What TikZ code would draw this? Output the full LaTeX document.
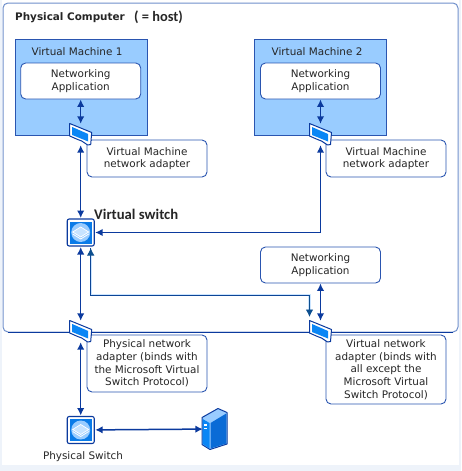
\documentclass[tikz,border=0pt]{standalone}
\usepackage{fontspec}
\setmainfont{DejaVu Sans}
\newfontfamily\titlefont{Carlito}
\usetikzlibrary{arrows.meta, positioning}
\definecolor{linkblue}{HTML}{0B3A9E}
\definecolor{boxblue}{HTML}{2A55B0}
\definecolor{vmblue}{HTML}{99CCFF}
\definecolor{chipblue}{HTML}{0A86F5}
\definecolor{tealblue}{HTML}{0D4F8F}
\definecolor{pageblue}{HTML}{EEF3FA}
\definecolor{hostblue}{HTML}{6F8FCB}
\tikzset{
    label text/.style = {font=\fontsize{10.4}{12.7}\selectfont, text=black!85, align=center, inner sep=0pt},
    whitebox/.style = {label text, draw=boxblue, line width=0.9pt, fill=white, rounded corners=5pt},
    link/.style = {{Latex[length=7.5pt,width=7.5pt]}-{Latex[length=7.5pt,width=7.5pt]}, draw=linkblue, line width=1.5pt},
    icon slot/.style = {inner sep=0pt, minimum width=#1, minimum height=#1},
    pics/netcard/.style = {code = {
        \draw[fill=white, draw=linkblue, line width=1pt, line join=round]
            (-11,-11) -- (11,-2) -- (10,10) -- (7,10.5) -- (1,6.5) -- (-3,5) -- (-11,1.5) -- cycle;
        \fill[chipblue] (-8.5,-7.5) -- (7.5,-0.5) -- (7.5,7) -- (-8.5,0.5) -- cycle;
    }},
    pics/hubtop/.style = {code = {
        \fill[linkblue!15!chipblue] (-11,-11) rectangle (11,11);
        \fill[vmblue] (0,0) circle (9.5);
        \draw[fill=white!45!vmblue, draw=white, line width=0.7pt] (-8,-0.5) -- (0,-5.5) -- (8,-0.5) -- (0,4.5) -- cycle;
        \draw[white, line width=0.8pt] (-8,1.5) -- (0,6.5) -- (8,1.5);
    }},
    pics/tower/.style = {code = {
        \draw[fill=vmblue, draw=linkblue, line width=1pt, line join=round]
            (-13,-11.5) -- (3,-20.5) -- (12,-16.5) -- (12,15) -- (-5,20.5) -- (-13,15.5) -- cycle;
        \fill[chipblue] (-12.3,-10) -- (-5.5,-6) -- (-5.5,19.5) -- (-12.3,15) -- cycle;
        \fill[linkblue!35!chipblue] (-4.5,-6) -- (11.3,-15.5) -- (11.3,14.5) -- (-4.5,19.5) -- cycle;
        \fill[white] (-11,-5) rectangle (-8,-3.5);
        \fill[white] (-11,-1) rectangle (-8,0.3);
    }},
}

\begin{document}
\begin{tikzpicture}[x=1pt, y=-1pt]
    \useasboundingbox (0,0) rectangle (461,471);
    % Parameters
    \pgfmathsetmacro{\colA}{80.7}
    \pgfmathsetmacro{\colB}{320.5}
    \pgfmathsetmacro{\noteA}{147}
    \pgfmathsetmacro{\noteB}{386}
    % Page and host
    \fill[pageblue] (0,0) rectangle (461,471);
    \fill[white] (2,0) rectangle (458.5,465);
    \draw[hostblue, line width=1pt, rounded corners=5pt] (3,3) rectangle (458,332);
    \draw[linkblue, line width=0.9pt] (8,332) -- (453,332);
    \node[anchor=west, inner sep=0pt, font=\fontsize{10.4}{12}\selectfont\bfseries, text=black!85] (hosttitle) at (15,17.5) {Physical Computer};
    \node[anchor=west, inner sep=0pt, font=\titlefont\fontsize{14.4}{15}\selectfont\bfseries, text=black!85] (hostnote) at (134,17.5) {( = host)};

    % Virtual machines
    \node[draw=boxblue, line width=1pt, fill=vmblue, inner sep=0pt, minimum width=132pt, minimum height=96pt] (vmone) at (81,87) {};
    \node[draw=boxblue, line width=1pt, fill=vmblue, inner sep=0pt, minimum width=132pt, minimum height=96pt] (vmtwo) at (320.5,87) {};
    \node[label text] (vmonetitle) at (77,51.5) {Virtual Machine 1};
    \node[label text] (vmtwotitle) at (317,51.5) {Virtual Machine 2};

    % Boxes with text
    \node[whitebox, minimum width=120pt, minimum height=36pt] (appone) at (\colA,81) {Networking\\Application};
    \node[whitebox, minimum width=120pt, minimum height=36pt] (apptwo) at (\colB,81) {Networking\\Application};
    \node[whitebox, minimum width=120pt, minimum height=36pt] (appthree) at (\colB,265) {Networking\\Application};
    \node[whitebox, minimum width=120pt, minimum height=37pt] (noteone) at (\noteA,158.5) {Virtual Machine\\network adapter};
    \node[whitebox, minimum width=120pt, minimum height=37pt] (notetwo) at (\noteB,158.5) {Virtual Machine\\network adapter};
    \node[whitebox, minimum width=120pt, minimum height=57pt] (notephys) at (\noteA,363.5) {Physical network\\adapter (binds with\\the Microsoft Virtual\\Switch Protocol)};
    \node[whitebox, minimum width=120pt, minimum height=69pt] (notevirt) at (\noteB,369.5) {Virtual network\\adapter (binds with\\all except the\\Microsoft Virtual\\Switch Protocol)};

    % Slots for the icons
    \node[icon slot=21pt] (nicone) at (\colA,134.5) {};
    \node[icon slot=21pt] (nictwo) at (\colB,134.5) {};
    \node[icon slot=21pt] (nicphys) at (\colA,331.5) {};
    \node[icon slot=21pt] (nicvirt) at (\colB,331.5) {};
    \node[draw=linkblue, fill=white, line width=1.1pt, rounded corners=2pt, inner sep=0pt, minimum width=27pt, minimum height=27pt, outer sep=1pt] (vswitch) at (\colA,232.5) {};
    \node[draw=linkblue, fill=white, line width=1.1pt, rounded corners=2pt, inner sep=0pt, minimum width=27pt, minimum height=27pt, outer sep=1pt] (pswitch) at (\colA,430) {};
    \node[icon slot=24pt, minimum height=40pt] (server) at (215,429) {};

    % Links
    \draw[link] (appone) -- (nicone);
    \draw[link] (apptwo) -- (nictwo);
    \draw[link] (appthree) -- (nicvirt);
    \draw[link] (nicone) -- (vswitch);
    \draw[link] (nictwo.south) |- (vswitch.east);
    \draw[link] (vswitch) -- (nicphys);
    \draw[link] (nicphys) -- (pswitch);
    \draw[link] (pswitch) -- (server);

    % Second link between the switch and the virtual adapter
    \coordinate (tealup) at (90.7,248);
    \coordinate (tealbend) at (309.5,295);
    \coordinate (tealdown) at (309.5,317);
    \draw[vmblue!50!white, line width=2.2pt] (90.7,256) |- (tealbend) -- (309.5,310);
    \draw[tealblue!50!linkblue, line width=0.9pt] (tealup) |- (tealbend);
    \draw[tealblue, line width=0.9pt, -{Latex[length=7.5pt,width=7.5pt]}] (tealbend) -- (tealdown);
    \draw[tealblue, line width=0.9pt, -{Latex[length=7.5pt,width=7.5pt]}] (90.7,256) -- (tealup);

    % Icons
    \pic at (nicone) {netcard};
    \pic at (nictwo) {netcard};
    \pic at (nicphys) {netcard};
    \pic at (nicvirt) {netcard};
    \pic at (vswitch) {hubtop};
    \pic at (pswitch) {hubtop};
    \pic at (server) {tower};

    % Free labels
    \node[anchor=west, inner sep=0pt, font=\titlefont\fontsize{14.7}{15}\selectfont\bfseries, text=black!85] (vswitchlabel) at (94,214.5) {Virtual switch};
    \node[label text] (pswitchlabel) at (83,457) {Physical Switch};
\end{tikzpicture}
\end{document}
